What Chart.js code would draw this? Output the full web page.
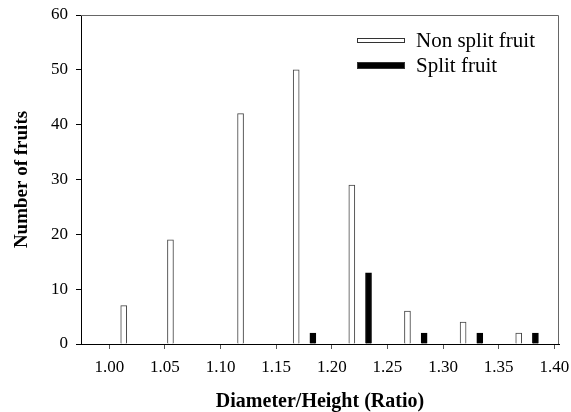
<!DOCTYPE html>
<html>
<head>
<meta charset="utf-8">
<script src="https://cdn.jsdelivr.net/npm/chart.js@4.4.1/dist/chart.umd.min.js"></script>
<style>
  html, body { margin: 0; padding: 0; background: #fff; }
  #wrap { width: 571px; height: 412px; }
</style>
</head>
<body>
<div id="wrap"><canvas id="fruitChart"></canvas></div>
<script>
// Ratio classes
const nonSplitRatios = [1.013, 1.055, 1.118, 1.168, 1.218, 1.268, 1.318, 1.368];
const nonSplitCounts = [7, 19, 42, 50, 29, 6, 4, 2];
const splitRatios = [1.183, 1.233, 1.283, 1.333, 1.383];
const splitCounts = [2, 13, 2, 2, 2];
const xTickValues = [1.00, 1.05, 1.10, 1.15, 1.20, 1.25, 1.30, 1.35, 1.40];
const yTickValues = [0, 10, 20, 30, 40, 50, 60];

const serif = '"Liberation Serif", "Times New Roman", serif';

// box round the plot + legend inside the plot
const framePlugin = {
    id: 'frameAndLegend',
    afterDraw(chart) {
        const { ctx, chartArea: a } = chart;
        ctx.save();
        ctx.strokeStyle = '#666';
        ctx.lineWidth = 1;
        ctx.beginPath();
        ctx.moveTo(a.left, a.top + 0.5);
        ctx.lineTo(a.right - 0.5, a.top + 0.5);
        ctx.lineTo(a.right - 0.5, a.bottom);
        ctx.stroke();

        const boxX = 357, boxW = 48;
        const rows = [{ y: 38, h: 5 }, { y: 62, h: 7 }];
        ctx.font = '21px ' + serif;
        ctx.textBaseline = 'middle';
        chart.data.datasets.forEach((ds, i) => {
            const r = rows[i];
            ctx.fillStyle = ds.backgroundColor;
            ctx.fillRect(boxX, r.y, boxW, r.h);
            ctx.strokeStyle = '#333';
            ctx.strokeRect(boxX + 0.5, r.y + 0.5, boxW - 1, r.h - 1);
            ctx.fillStyle = '#000';
            ctx.fillText(ds.label, 416, r.y + r.h / 2 + 1);
        });
        ctx.restore();
    }
};

new Chart(document.getElementById('fruitChart'), {
    type: 'bar',
    data: {
        datasets: [
            {
                label: 'Non split fruit',
                data: nonSplitRatios.map((x, i) => ({ x: x, y: nonSplitCounts[i] })),
                backgroundColor: '#ffffff',
                borderColor: '#444',
                borderWidth: 1,
                barThickness: 6,
                grouped: false
            },
            {
                label: 'Split fruit',
                data: splitRatios.map((x, i) => ({ x: x, y: splitCounts[i] })),
                backgroundColor: '#000000',
                borderColor: '#000',
                borderWidth: 1,
                barThickness: 6,
                grouped: false
            }
        ]
    },
    options: {
        responsive: true,
        maintainAspectRatio: false,
        animation: false,
        layout: { padding: { top: 15, right: 12, left: 0, bottom: 0 } },
        plugins: { legend: { display: false }, tooltip: { enabled: false } },
        scales: {
            x: {
                type: 'linear',
                offset: false,
                min: 0.9746,
                max: 1.4042,
                afterBuildTicks: s => { s.ticks = xTickValues.map(v => ({ value: v })); },
                afterFit: s => { s.height = 68; s.paddingRight = 0; s.paddingLeft = 0; },
                ticks: {
                    font: { family: serif, size: 17 },
                    color: '#000',
                    padding: 8,
                    maxRotation: 0,
                    autoSkip: false,
                    callback: v => v.toFixed(2)
                },
                grid: { drawOnChartArea: false, offset: false, tickLength: 5, color: '#555' },
                border: { color: '#000', width: 1 },
                title: {
                    display: true,
                    text: 'Diameter/Height (Ratio)',
                    font: { family: serif, size: 20, weight: 'bold', lineHeight: 1 },
                    color: '#000',
                    padding: { top: 0, bottom: 0 }
                }
            },
            y: {
                min: 0,
                max: 60,
                afterBuildTicks: s => { s.ticks = yTickValues.map(v => ({ value: v })); },
                afterFit: s => { s.width = 81; s.paddingTop = 0; s.paddingBottom = 0; },
                ticks: {
                    font: { family: serif, size: 17 },
                    color: '#000',
                    padding: 8
                },
                grid: { drawOnChartArea: false, tickLength: 5, color: '#000' },
                border: { color: '#000', width: 1 },
                title: {
                    display: true,
                    text: 'Number of fruits',
                    font: { family: serif, size: 19, weight: 'bold', lineHeight: 1 },
                    color: '#000',
                    padding: { top: 13, bottom: 0 }
                }
            }
        }
    },
    plugins: [framePlugin]
});
</script>
</body>
</html>
